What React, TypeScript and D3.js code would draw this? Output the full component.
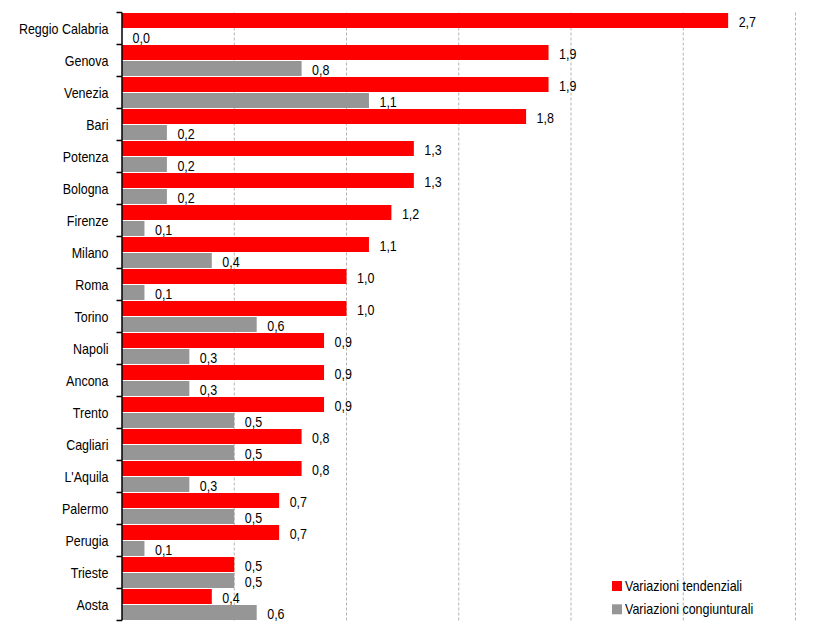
import React from "react";
import * as d3 from "d3";

const categories = [
  "Reggio Calabria", "Genova", "Venezia", "Bari", "Potenza", "Bologna", "Firenze",
  "Milano", "Roma", "Torino", "Napoli", "Ancona", "Trento", "Cagliari", "L'Aquila",
  "Palermo", "Perugia", "Trieste", "Aosta",
];
const tendenziali = [2.7, 1.9, 1.9, 1.8, 1.3, 1.3, 1.2, 1.1, 1.0, 1.0, 0.9, 0.9, 0.9, 0.8, 0.8, 0.7, 0.7, 0.5, 0.4];
const congiunturali = [0.0, 0.8, 1.1, 0.2, 0.2, 0.2, 0.1, 0.4, 0.1, 0.6, 0.3, 0.3, 0.5, 0.5, 0.3, 0.5, 0.1, 0.5, 0.6];
const gridTicks = [0.5, 1.0, 1.5, 2.0, 2.5, 3.0];
const seriesNames = ["Variazioni tendenziali", "Variazioni congiunturali"];
const seriesColors = ["#ff0000", "#969696"];

const W = 831;
const H = 638;
const FONT = "'Liberation Sans', Arial, sans-serif";
const SY = 1.12;

function T(props: { x: number; y: number; anchor?: string; children: React.ReactNode }) {
  return (
    <text
      transform={`translate(${props.x},${props.y}) scale(1,${SY})`}
      fontSize={12.5}
      textAnchor={props.anchor || "start"}
      fill="#000"
    >
      {props.children}
    </text>
  );
}

export default function App() {
  const x = d3.scaleLinear().domain([0, 3]).range([122, 795.5]);
  const y = d3.scaleBand<string>().domain(categories).range([12.5, 620.5]).padding(0);
  const bw = y.bandwidth();
  const fmt = (v: number) => v.toFixed(1).replace(".", ",");
  const barH = 15;

  return (
    <svg
      width={W}
      height={H}
      style={{ position: "absolute", left: 0, top: 0, background: "#fff", display: "block" }}
      fontFamily={FONT}
    >
      {gridTicks.map((t) => (
        <line
          key={t}
          x1={x(t)}
          x2={x(t)}
          y1={12.5}
          y2={620.5}
          stroke="#b4b4b4"
          strokeWidth={1}
          strokeDasharray="3,2"
        />
      ))}
      {categories.map((c, i) => {
        const y0 = y(c)!;
        const yr = y0 + 0.5;
        const yg = y0 + 16.5;
        return (
          <g key={c}>
            <rect x={x(0)} y={yr} width={x(tendenziali[i]) - x(0)} height={barH} fill={seriesColors[0]} />
            <rect x={x(0)} y={yg} width={x(congiunturali[i]) - x(0)} height={barH} fill={seriesColors[1]} />
            <T x={x(tendenziali[i]) + 10.5} y={yr + barH / 2 + 6}>{fmt(tendenziali[i])}</T>
            <T x={x(congiunturali[i]) + 10.5} y={yg + barH / 2 + 6}>{fmt(congiunturali[i])}</T>
            <T x={108.5} y={y0 + bw / 2 + 5} anchor="end">{c}</T>
          </g>
        );
      })}
      <line x1={122} x2={122} y1={12.5} y2={620.5} stroke="#000" strokeWidth={1.5} />
      {d3.range(categories.length + 1).map((k) => {
        const yy = 12.5 + k * bw;
        return <line key={k} x1={116.5} x2={122} y1={yy} y2={yy} stroke="#000" strokeWidth={1.5} />;
      })}
      {seriesNames.map((n, i) => (
        <g key={n}>
          <rect x={612} y={581 + i * 23.3} width={10} height={10} fill={seriesColors[i]} />
          <T x={625} y={581 + i * 23.3 + 10}>{n}</T>
        </g>
      ))}
    </svg>
  );
}
